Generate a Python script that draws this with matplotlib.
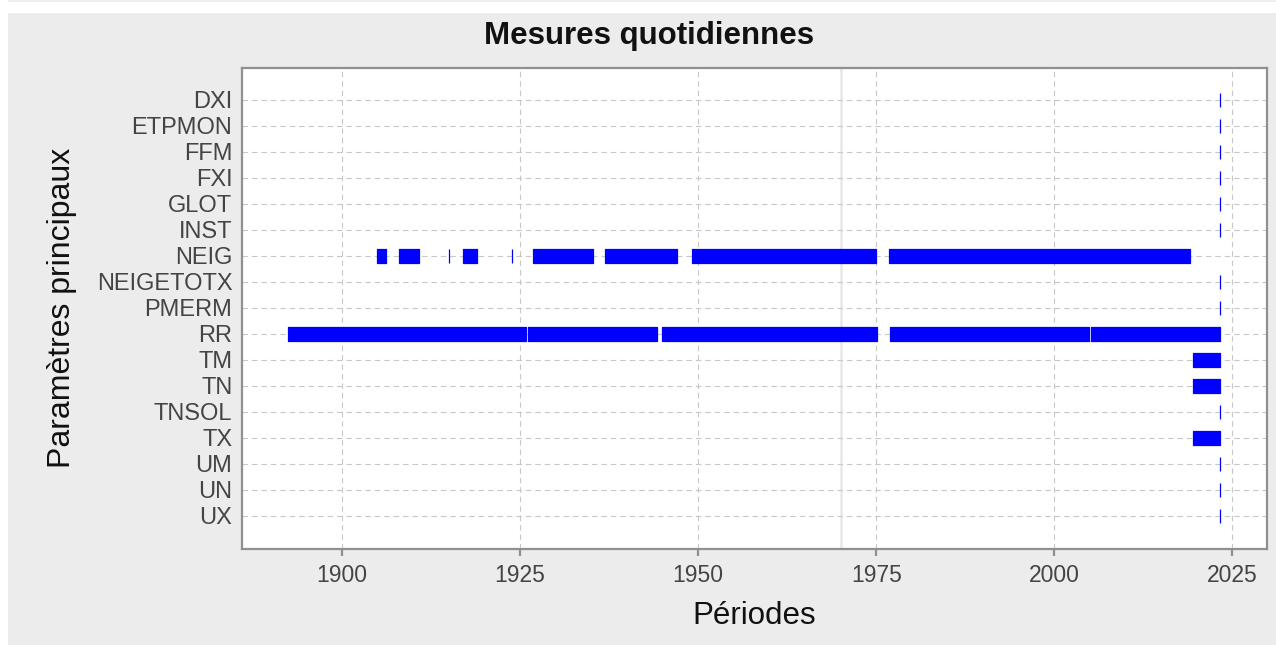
import matplotlib
matplotlib.use('Agg')
import matplotlib.pyplot as plt
from matplotlib.patches import Rectangle

plt.rcParams['font.family'] = ['Liberation Sans', 'DejaVu Sans']

# parametres (de haut en bas)
params = ['DXI', 'ETPMON', 'FFM', 'FXI', 'GLOT', 'INST', 'NEIG', 'NEIGETOTX',
          'PMERM', 'RR', 'TM', 'TN', 'TNSOL', 'TX', 'UM', 'UN', 'UX']

# periodes de mesure (debut, fin) en annees
recent = [(2023.2, 2023.25)]
neig = [(1904.9, 1906.2), (1908.0, 1910.8), (1915.0, 1915.1), (1917.0, 1919.0),
        (1923.85, 1923.95), (1926.9, 1935.2), (1937.0, 1947.1), (1949.1, 1975.0),
        (1976.8, 2019.1)]
rr = [(1892.5, 1925.8), (1926.2, 1944.3), (1944.9, 1975.1), (1976.9, 2004.9),
      (2005.2, 2023.3)]
temp = [(2019.5, 2023.3)]

periods = {'DXI': recent, 'ETPMON': recent, 'FFM': recent, 'FXI': recent,
           'GLOT': recent, 'INST': recent, 'NEIG': neig, 'NEIGETOTX': recent,
           'PMERM': recent, 'RR': rr, 'TM': temp, 'TN': temp, 'TNSOL': recent,
           'TX': temp, 'UM': recent, 'UN': recent, 'UX': recent}

xticks = [1900, 1925, 1950, 1975, 2000, 2025]

W, H = 1276, 645
fig = plt.figure(figsize=(W/100, H/100), dpi=100, facecolor='white')
fig.patches.append(Rectangle((8/W, 0), 1 - 8/W, 1 - 13/H, transform=fig.transFigure,
                             facecolor='#ececec', edgecolor='none', zorder=-10))
fig.patches.append(Rectangle((8/W, 1 - 1.5/H), 1 - 8/W, 1.5/H, transform=fig.transFigure,
                             facecolor='#eeeeee', edgecolor='none', zorder=-10))

ax = fig.add_axes([242/W, 1 - 549/H, (1266.7 - 242)/W, (549 - 67.5)/H])
ax.set_facecolor('white')

h = 0.56
for i, p in enumerate(params):
    segs = [(a, b - a) for a, b in periods[p]]
    ax.broken_barh(segs, (i - h/2, h), facecolors='#0000ff', edgecolor='#0000ff',
                   linewidth=0.9, zorder=3)

ax.axvline(1970, color='#e8e8e8', lw=1.8, zorder=0.5)

ax.set_yticks(range(len(params)))
ax.set_yticklabels(params)
ax.set_ylim(len(params) - 1 + 1.27, -1.25)
ax.set_xticks(xticks)
ax.set_xlim(1886.0, 2029.8)

ax.grid(True, color='#c8c8c8', linestyle=(0, (5, 3.5)), linewidth=0.8, zorder=1)
ax.set_axisbelow(True)

for s in ax.spines.values():
    s.set_color('#909090')
    s.set_linewidth(1.6)

ax.tick_params(axis='y', length=0, pad=7, labelsize=17, labelcolor='#444444')
ax.tick_params(axis='x', length=5, width=1.6, color='#909090', pad=6,
               labelsize=16.5, labelcolor='#444444')

ax.set_xlabel('Périodes', fontsize=22.5, color='#111111', labelpad=10)
ax.set_ylabel('Paramètres principaux', fontsize=23, color='#111111', labelpad=14)
fig.text(649.5/W, 1 - 36/H, 'Mesures quotidiennes', ha='center', va='center',
         fontsize=22.5, fontweight='bold', color='#111111')

fig.savefig('out.png', dpi=100, facecolor=fig.get_facecolor())
